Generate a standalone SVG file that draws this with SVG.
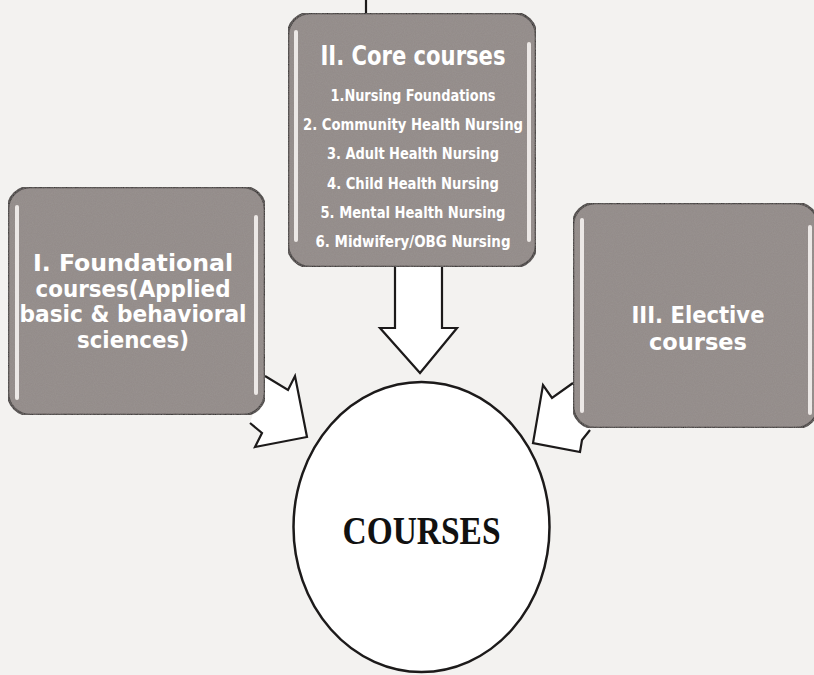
<svg xmlns="http://www.w3.org/2000/svg" width="814" height="675" viewBox="0 0 814 675">
  <defs>
    <filter id="grain" x="0" y="0" width="100%" height="100%">
      <feTurbulence type="fractalNoise" baseFrequency="0.9" numOctaves="2" seed="3" result="n"/>
      <feColorMatrix in="n" type="matrix" values="0 0 0 0 0.35  0 0 0 0 0.32  0 0 0 0 0.31  0 0 0 0.55 0" result="c"/>
      <feComposite in="c" in2="SourceGraphic" operator="in" result="m"/>
      <feMerge><feMergeNode in="SourceGraphic"/><feMergeNode in="m"/></feMerge>
    </filter>
    <style>
      .box { fill: #928a88; stroke: #1c1a1a; stroke-width: 2.5; }
      .strip { fill: #ece8e6; }
      .conn { fill: #ffffff; stroke: #1c1a1a; stroke-width: 2.2; stroke-linejoin: miter; }
      .t { font-family: "DejaVu Sans Condensed", "Liberation Sans", sans-serif; font-weight: bold; fill: #ffffff; text-anchor: middle; }
      .title { font-size: 27px; }
      .item { font-size: 16px; }
      .big { font-size: 23px; }
      .center { font-family: "Liberation Serif", "DejaVu Serif", serif; font-weight: bold; font-size: 40px; fill: #111111; text-anchor: middle; }
    </style>
  </defs>

  <rect x="0" y="0" width="814" height="675" fill="#f3f2f0"/>

  <g id="connectors">
    <line x1="366" y1="0" x2="366" y2="14" stroke="#1c1a1a" stroke-width="2.2"/>
    <path class="conn" d="M395,267 L395,328 L380,328 L420,373 L457,328 L442,328 L442,267"/>
    <path class="conn" d="M265,376 L288,390 L295,376 L307,437 L255,447 L262,433 L250,423"/>
    <path class="conn" d="M573,383 L552,398 L543,385 L533,443 L580,452 L582,440 L590,430"/>
  </g>

  <g id="core">
    <rect class="box" x="288" y="13" width="248" height="254" rx="22" filter="url(#grain)"/>
    <rect class="strip" x="294" y="30" width="4" height="212" rx="2"/>
    <rect class="strip" x="527" y="42" width="4" height="200" rx="2"/>
    <text class="t title" x="413" y="65" textLength="185" lengthAdjust="spacingAndGlyphs">II. Core courses</text>
    <text class="t item" x="413" y="101" textLength="165" lengthAdjust="spacingAndGlyphs">1.Nursing Foundations</text>
    <text class="t item" x="413" y="130" textLength="220" lengthAdjust="spacingAndGlyphs">2. Community Health Nursing</text>
    <text class="t item" x="413" y="159" textLength="172" lengthAdjust="spacingAndGlyphs">3. Adult Health Nursing</text>
    <text class="t item" x="413" y="189" textLength="172" lengthAdjust="spacingAndGlyphs">4. Child Health Nursing</text>
    <text class="t item" x="413" y="218" textLength="185" lengthAdjust="spacingAndGlyphs">5. Mental Health Nursing</text>
    <text class="t item" x="413" y="247" textLength="195" lengthAdjust="spacingAndGlyphs">6. Midwifery/OBG Nursing</text>
  </g>

  <g id="foundational">
    <rect class="box" x="8" y="187" width="257" height="228" rx="22" filter="url(#grain)"/>
    <rect class="strip" x="15" y="205" width="4" height="195" rx="2"/>
    <rect class="strip" x="254" y="215" width="4" height="180" rx="2"/>
    <text class="t big" x="133" y="271" textLength="200" lengthAdjust="spacingAndGlyphs">I. Foundational</text>
    <text class="t big" x="133" y="297" textLength="195" lengthAdjust="spacingAndGlyphs">courses(Applied</text>
    <text class="t big" x="133" y="322" textLength="227" lengthAdjust="spacingAndGlyphs">basic &amp; behavioral</text>
    <text class="t big" x="133" y="348" textLength="112" lengthAdjust="spacingAndGlyphs">sciences)</text>
  </g>

  <g id="elective">
    <rect class="box" x="573" y="203" width="245" height="225" rx="22" filter="url(#grain)"/>
    <rect class="strip" x="580" y="218" width="4" height="195" rx="2"/>
    <rect class="strip" x="808" y="225" width="4" height="190" rx="2"/>
    <text class="t big" x="698" y="323" textLength="133" lengthAdjust="spacingAndGlyphs">III. Elective</text>
    <text class="t big" x="698" y="350" textLength="98" lengthAdjust="spacingAndGlyphs">courses</text>
  </g>

  <g id="courses">
    <ellipse cx="421.5" cy="527" rx="128" ry="145" fill="#ffffff" stroke="#1c1a1a" stroke-width="2.5"/>
    <text class="center" x="421.5" y="544" textLength="158" lengthAdjust="spacingAndGlyphs">COURSES</text>
  </g>
</svg>
